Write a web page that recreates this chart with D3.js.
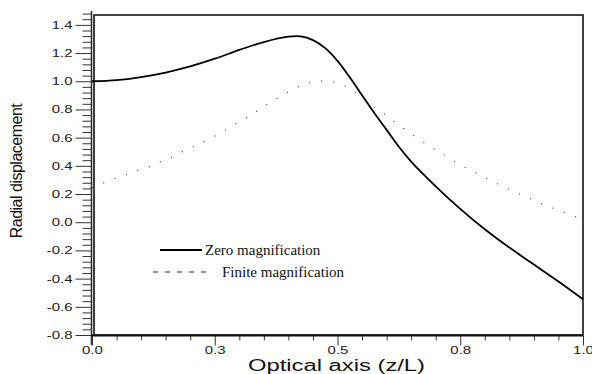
<!DOCTYPE html>
<html>
<head>
<meta charset="utf-8">
<script src="https://cdn.jsdelivr.net/npm/d3@7"></script>
<style>
  html, body { margin: 0; padding: 0; background: #fff; }
  svg { display: block; }
</style>
</head>
<body>
<svg id="chart" width="592" height="374"></svg>
<script>
// ---- data ----
const zeroX = [0.000, 0.050, 0.100, 0.150, 0.200, 0.250, 0.300, 0.350, 0.400, 0.425, 0.450, 0.475, 0.500, 0.525, 0.550, 0.575, 0.600, 0.625, 0.650, 0.700, 0.750, 0.800, 0.850, 0.900, 0.950, 1.000];
const zeroY = [1.000, 1.008, 1.030, 1.062, 1.105, 1.160, 1.222, 1.278, 1.316, 1.318, 1.292, 1.235, 1.145, 1.028, 0.900, 0.775, 0.655, 0.535, 0.430, 0.255, 0.095, -0.050, -0.180, -0.300, -0.420, -0.546];

const finiteX = [0.000, 0.022, 0.045, 0.069, 0.093, 0.117, 0.140, 0.163, 0.186, 0.209, 0.231, 0.254, 0.275, 0.297, 0.319, 0.340, 0.361, 0.383, 0.405, 0.428, 0.452, 0.477, 0.502, 0.517, 0.539, 0.578, 0.599, 0.619, 0.702, 0.723, 0.745, 0.767, 0.790, 0.812, 0.835, 0.857, 0.882, 0.904, 0.927, 0.951, 0.975, 1.000];
const finiteY = [0.245, 0.276, 0.309, 0.335, 0.368, 0.394, 0.430, 0.463, 0.504, 0.539, 0.577, 0.618, 0.660, 0.708, 0.751, 0.798, 0.845, 0.890, 0.936, 0.971, 0.997, 1.000, 0.986, 0.962, 0.914, 0.810, 0.760, 0.705, 0.506, 0.468, 0.418, 0.375, 0.335, 0.297, 0.256, 0.221, 0.185, 0.150, 0.114, 0.085, 0.053, 0.020];

const seriesNames = ["Zero magnification", "Finite magnification"];

const xTickValues = [0, 0.25, 0.5, 0.75, 1.0];
const xTickLabels = ["0.0", "0.3", "0.5", "0.8", "1.0"];
const yTickValues = [-0.8, -0.6, -0.4, -0.2, 0.0, 0.2, 0.4, 0.6, 0.8, 1.0, 1.2, 1.4];
const yTickLabels = ["-0.8", "-0.6", "-0.4", "-0.2", "0.0", "0.2", "0.4", "0.6", "0.8", "1.0", "1.2", "1.4"];
const xDomain = [0, 1];
const yDomain = [-0.8, 1.47];
const xMinorStep = 0.05;
const yMinorStep = 0.04;

const xLabel = "Optical axis (z/L)";
const yLabel = "Radial displacement";

// ---- layout ----
const svg = d3.select("#chart");
const plot = { left: 92, right: 583, top: 15, bottom: 335 };
const x = d3.scaleLinear().domain(xDomain).range([plot.left, plot.right]);
const y = d3.scaleLinear().domain(yDomain).range([plot.bottom, plot.top]);

const SANS = "'Liberation Sans', Arial, Helvetica, sans-serif";
const SERIF = "'Liberation Serif', 'Times New Roman', serif";
const STRETCH = 1.36;

// frame
svg.append("rect")
  .attr("x", plot.left + 2).attr("y", plot.top)
  .attr("width", plot.right - plot.left - 2).attr("height", plot.bottom - plot.top)
  .attr("fill", "none").attr("stroke", "#222").attr("stroke-width", 1.7);

// minor tick values
const xMinor = d3.range(Math.round((xDomain[1] - xDomain[0]) / xMinorStep) + 1)
  .map(i => +(xDomain[0] + i * xMinorStep).toFixed(4))
  .filter(v => !xTickValues.some(t => Math.abs(t - v) < 1e-6));
const yMinor = d3.range(0, 60).map(i => +(-0.8 + i * yMinorStep).toFixed(4))
  .filter(v => v <= 1.48 + 1e-6)
  .filter(v => !yTickValues.some(t => Math.abs(t - v) < 1e-6));

// Y axis
const yAxisX = plot.left - 0.5;
const gy = svg.append("g").attr("transform", `translate(${yAxisX},0)`);
gy.call(d3.axisLeft(y).tickValues(yMinor).tickSize(9).tickFormat(""));
gy.call(g => g.select(".domain").remove());
const gyMaj = svg.append("g").attr("transform", `translate(${yAxisX},0)`);
gyMaj.call(d3.axisLeft(y).tickValues(yTickValues).tickSize(16)
  .tickFormat((d, i) => yTickLabels[i]));
gyMaj.call(g => g.select(".domain").remove());
[gy, gyMaj].forEach(g => g.selectAll("line").attr("stroke", "#333").attr("stroke-width", 1));
gyMaj.selectAll("text")
  .attr("x", 0)
  .attr("transform", `translate(-19,0) scale(${STRETCH},1)`)
  .attr("font-family", SANS).attr("font-size", 11).attr("fill", "#222");
svg.append("line")
  .attr("x1", yAxisX).attr("x2", yAxisX)
  .attr("y1", plot.top - 4).attr("y2", plot.bottom + 10)
  .attr("stroke", "#333").attr("stroke-width", 1.6);

// X axis
const gx = svg.append("g").attr("transform", `translate(0,${plot.bottom + 0.5})`);
gx.call(d3.axisBottom(x).tickValues(xMinor).tickSize(5).tickFormat(""));
gx.call(g => g.select(".domain").remove());
const gxMaj = svg.append("g").attr("transform", `translate(0,${plot.bottom + 0.5})`);
gxMaj.call(d3.axisBottom(x).tickValues(xTickValues).tickSize(10)
  .tickFormat((d, i) => xTickLabels[i]));
gxMaj.call(g => g.select(".domain").remove());
[gx, gxMaj].forEach(g => g.selectAll("line").attr("stroke", "#333").attr("stroke-width", 1));
gxMaj.selectAll("text")
  .attr("y", 11)
  .attr("transform", `scale(${STRETCH},1)`)
  .attr("font-family", SANS).attr("font-size", 11).attr("fill", "#222");
svg.append("line")
  .attr("x1", plot.left - 1).attr("x2", plot.right)
  .attr("y1", plot.bottom + 0.5).attr("y2", plot.bottom + 0.5)
  .attr("stroke", "#111").attr("stroke-width", 2.2);

// axis titles
svg.append("text")
  .attr("x", 248).attr("y", 371)
  .attr("textLength", 177).attr("lengthAdjust", "spacingAndGlyphs")
  .attr("font-family", SANS).attr("font-size", 16).attr("fill", "#111")
  .text(xLabel);
svg.append("text")
  .attr("transform", "translate(22,171) rotate(-90)")
  .attr("text-anchor", "middle")
  .attr("font-family", SANS).attr("font-size", 16).attr("letter-spacing", -0.5)
  .attr("fill", "#111")
  .text(yLabel);

// curves
const line = d3.line().x(d => x(d[0])).y(d => y(d[1])).curve(d3.curveCatmullRom.alpha(0.5));
const zeroData = zeroX.map((v, i) => [v, zeroY[i]]);
const finiteData = finiteX.map((v, i) => [v, finiteY[i]]);

svg.append("path").datum(finiteData).attr("d", line)
  .attr("fill", "none").attr("stroke", "#444").attr("stroke-width", 1.1)
  .attr("stroke-dasharray", "1.1,11");
svg.append("path").datum(zeroData).attr("d", line)
  .attr("fill", "none").attr("stroke", "#000").attr("stroke-width", 1.8);

// legend
const lg = svg.append("g");
lg.append("line").attr("x1", 160).attr("x2", 202).attr("y1", 250).attr("y2", 250)
  .attr("stroke", "#000").attr("stroke-width", 2);
lg.append("text").attr("x", 205).attr("y", 255)
  .attr("font-family", SERIF).attr("font-size", 15).attr("fill", "#111")
  .text(seriesNames[0]);
lg.append("line").attr("x1", 153).attr("x2", 208).attr("y1", 272).attr("y2", 272)
  .attr("stroke", "#222").attr("stroke-width", 1).attr("stroke-dasharray", "5,7");
lg.append("text").attr("x", 222).attr("y", 277)
  .attr("font-family", SERIF).attr("font-size", 15).attr("fill", "#111")
  .text(seriesNames[1]);
</script>
</body>
</html>
